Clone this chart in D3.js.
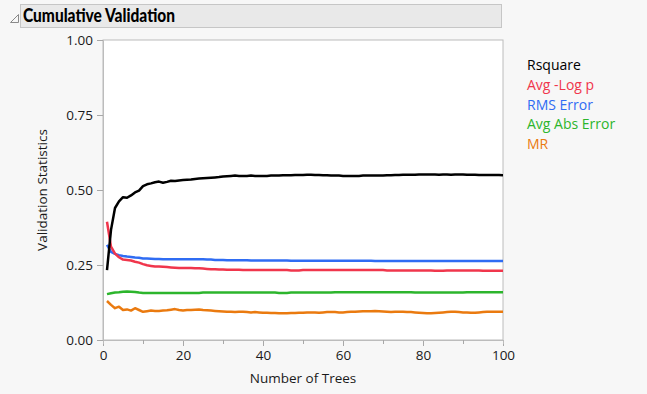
<!DOCTYPE html>
<html>
<head>
<meta charset="utf-8">
<script src="https://cdn.jsdelivr.net/npm/d3@7"></script>
<style>
  body { margin: 0; background: #f7f7f7; font-family: "Open Sans", "Noto Sans", sans-serif; }
  svg { display: block; }
</style>
</head>
<body>
<script>
// Cumulative validation statistics by number of trees (trees 1..100)

var seriesNames = ["Rsquare", "Avg -Log p", "RMS Error", "Avg Abs Error", "MR"];
var seriesColors = ["#000000", "#f0364c", "#2f6cf3", "#2cb52c", "#ea7a0f"];

var rsquare = [
  0.233, 0.367, 0.440, 0.462, 0.476, 0.474, 0.482, 0.492, 0.498, 0.513,
  0.519, 0.522, 0.526, 0.528, 0.524, 0.527, 0.531, 0.530, 0.532, 0.533,
  0.534, 0.535, 0.537, 0.538, 0.539, 0.540, 0.541, 0.542, 0.543, 0.545,
  0.546, 0.547, 0.548, 0.547, 0.547, 0.547, 0.548, 0.547, 0.547, 0.547,
  0.547, 0.548, 0.548, 0.548, 0.549, 0.549, 0.549, 0.550, 0.550, 0.550,
  0.551, 0.551, 0.550, 0.550, 0.549, 0.549, 0.548, 0.548, 0.548, 0.547,
  0.547, 0.547, 0.547, 0.547, 0.548, 0.548, 0.548, 0.548, 0.548, 0.548,
  0.549, 0.549, 0.550, 0.550, 0.551, 0.551, 0.551, 0.551, 0.552, 0.552,
  0.552, 0.552, 0.552, 0.551, 0.552, 0.552, 0.551, 0.552, 0.552, 0.552,
  0.551, 0.551, 0.551, 0.550, 0.550, 0.550, 0.550, 0.550, 0.550, 0.549
];

var avgLogP = [
  0.394, 0.311, 0.288, 0.276, 0.268, 0.267, 0.265, 0.261, 0.258, 0.253,
  0.249, 0.247, 0.245, 0.245, 0.244, 0.243, 0.242, 0.241, 0.240, 0.240,
  0.240, 0.240, 0.239, 0.239, 0.238, 0.237, 0.236, 0.236, 0.235, 0.235,
  0.234, 0.234, 0.234, 0.234, 0.233, 0.233, 0.233, 0.233, 0.233, 0.233,
  0.233, 0.233, 0.233, 0.233, 0.233, 0.233, 0.232, 0.232, 0.232, 0.233,
  0.233, 0.233, 0.233, 0.233, 0.233, 0.233, 0.233, 0.233, 0.233, 0.233,
  0.233, 0.233, 0.233, 0.233, 0.233, 0.233, 0.233, 0.233, 0.233, 0.233,
  0.232, 0.232, 0.232, 0.232, 0.232, 0.232, 0.232, 0.232, 0.232, 0.232,
  0.232, 0.232, 0.231, 0.231, 0.231, 0.232, 0.232, 0.232, 0.232, 0.232,
  0.232, 0.232, 0.232, 0.232, 0.231, 0.231, 0.231, 0.231, 0.231, 0.231
];

var rmsError = [
  0.317, 0.294, 0.287, 0.283, 0.280, 0.278, 0.277, 0.275, 0.274, 0.272,
  0.272, 0.271, 0.270, 0.270, 0.269, 0.269, 0.269, 0.269, 0.269, 0.269,
  0.269, 0.269, 0.269, 0.269, 0.269, 0.268, 0.268, 0.267, 0.267, 0.267,
  0.266, 0.266, 0.266, 0.266, 0.266, 0.266, 0.265, 0.265, 0.265, 0.265,
  0.265, 0.265, 0.265, 0.265, 0.265, 0.265, 0.264, 0.264, 0.264, 0.264,
  0.264, 0.264, 0.264, 0.264, 0.264, 0.264, 0.264, 0.264, 0.264, 0.264,
  0.264, 0.264, 0.264, 0.264, 0.264, 0.264, 0.264, 0.263, 0.263, 0.263,
  0.263, 0.263, 0.263, 0.263, 0.263, 0.263, 0.263, 0.263, 0.263, 0.263,
  0.263, 0.263, 0.263, 0.263, 0.263, 0.263, 0.263, 0.263, 0.263, 0.263,
  0.263, 0.263, 0.263, 0.263, 0.263, 0.263, 0.263, 0.263, 0.263, 0.263
];

var avgAbsError = [
  0.153, 0.156, 0.158, 0.159, 0.161, 0.162, 0.161, 0.160, 0.158, 0.157,
  0.157, 0.157, 0.157, 0.157, 0.157, 0.157, 0.157, 0.157, 0.157, 0.157,
  0.157, 0.157, 0.157, 0.157, 0.158, 0.158, 0.158, 0.158, 0.158, 0.158,
  0.158, 0.158, 0.158, 0.158, 0.158, 0.158, 0.158, 0.158, 0.158, 0.158,
  0.158, 0.158, 0.158, 0.157, 0.157, 0.157, 0.158, 0.158, 0.158, 0.158,
  0.158, 0.158, 0.158, 0.158, 0.158, 0.158, 0.158, 0.159, 0.159, 0.159,
  0.159, 0.159, 0.159, 0.159, 0.159, 0.159, 0.159, 0.159, 0.159, 0.159,
  0.159, 0.159, 0.159, 0.159, 0.159, 0.159, 0.159, 0.158, 0.158, 0.158,
  0.158, 0.158, 0.158, 0.158, 0.158, 0.158, 0.158, 0.158, 0.158, 0.158,
  0.159, 0.159, 0.159, 0.159, 0.159, 0.159, 0.159, 0.159, 0.159, 0.159
];

var mr = [
  0.130, 0.117, 0.106, 0.111, 0.100, 0.102, 0.098, 0.106, 0.100, 0.094,
  0.096, 0.098, 0.097, 0.097, 0.098, 0.099, 0.101, 0.103, 0.100, 0.098,
  0.100, 0.100, 0.101, 0.102, 0.100, 0.099, 0.098, 0.097, 0.096, 0.095,
  0.094, 0.094, 0.093, 0.094, 0.094, 0.093, 0.092, 0.093, 0.092, 0.091,
  0.091, 0.090, 0.090, 0.089, 0.089, 0.089, 0.090, 0.090, 0.091, 0.091,
  0.092, 0.092, 0.092, 0.091, 0.092, 0.093, 0.093, 0.093, 0.092, 0.092,
  0.093, 0.094, 0.094, 0.095, 0.096, 0.096, 0.096, 0.097, 0.096, 0.095,
  0.094, 0.093, 0.094, 0.094, 0.094, 0.093, 0.093, 0.092, 0.091, 0.090,
  0.089, 0.089, 0.090, 0.091, 0.092, 0.093, 0.094, 0.094, 0.093, 0.092,
  0.092, 0.091, 0.091, 0.092, 0.093, 0.094, 0.094, 0.094, 0.094, 0.094
];

var xTicks = [0, 20, 40, 60, 80, 100];
var xMinorTicks = [10, 30, 50, 70, 90];
var yTicks = [0, 0.25, 0.5, 0.75, 1];

var allSeries = [rsquare, avgLogP, rmsError, avgAbsError, mr];

var W = 647, H = 394;
var plot = { left: 103, top: 40, right: 503, bottom: 340 };

var svg = d3.select("body").append("svg")
    .attr("width", W)
    .attr("height", H);

// header bar
svg.append("rect")
    .attr("x", 20.5).attr("y", 4.5)
    .attr("width", 481).attr("height", 23)
    .attr("fill", "#e9e9e9")
    .attr("stroke", "#c6c6c6");

svg.append("path")
    .attr("d", "M10.5,22.5 L18.5,22.5 L18.5,14.5 Z")
    .attr("fill", "none")
    .attr("stroke", "#8a8a8a");

svg.append("text")
    .attr("x", 23).attr("y", 22)
    .attr("font-family", "Lato, 'Open Sans', sans-serif")
    .attr("font-size", 18.5)
    .attr("font-weight", 900)
    .attr("textLength", 152)
    .attr("lengthAdjust", "spacingAndGlyphs")
    .attr("fill", "#000")
    .text("Cumulative Validation");

var x = d3.scaleLinear().domain([0, 100]).range([plot.left, plot.right]);
var y = d3.scaleLinear().domain([0, 1]).range([plot.bottom, plot.top]);

// plot frame
svg.append("rect")
    .attr("x", plot.left).attr("y", plot.top)
    .attr("width", plot.right - plot.left)
    .attr("height", plot.bottom - plot.top)
    .attr("fill", "#ffffff")
    .attr("stroke", "#bcbcbc");

// y axis
svg.append("g")
    .attr("transform", "translate(" + plot.left + ",0)")
    .call(d3.axisLeft(y).tickValues(yTicks).tickFormat(d3.format(".2f")).tickSize(6).tickPadding(4));

// x axis
svg.append("g")
    .attr("transform", "translate(0," + plot.bottom + ")")
    .call(d3.axisBottom(x).tickValues(xTicks).tickSize(6).tickPadding(4));

svg.append("g")
    .attr("transform", "translate(0," + plot.bottom + ")")
    .call(d3.axisBottom(x).tickValues(xMinorTicks).tickSize(4).tickFormat(""));

svg.selectAll(".domain").attr("stroke", "#bcbcbc");
svg.selectAll(".tick line").attr("stroke", "#a8a8a8");
svg.selectAll(".tick text")
    .attr("font-family", "'Open Sans', 'Noto Sans', sans-serif")
    .attr("font-size", 13.5)
    .attr("fill", "#1a1a1a");

// axis titles
svg.append("text")
    .attr("x", (plot.left + plot.right) / 2)
    .attr("y", 383)
    .attr("text-anchor", "middle")
    .attr("font-size", 13.5)
    .attr("fill", "#1a1a1a")
    .text("Number of Trees");

svg.append("text")
    .attr("transform", "translate(47," + ((plot.top + plot.bottom) / 2) + ") rotate(-90)")
    .attr("text-anchor", "middle")
    .attr("font-size", 13.5)
    .attr("fill", "#1a1a1a")
    .text("Validation Statistics");

// lines
var line = d3.line()
    .x(function(d, i) { return x(i + 1); })
    .y(function(d) { return y(d); });

svg.append("clipPath").attr("id", "clip")
    .append("rect")
    .attr("x", plot.left).attr("y", plot.top)
    .attr("width", plot.right - plot.left).attr("height", plot.bottom - plot.top);

// draw order: coloured series first, Rsquare on top
[4, 3, 2, 1, 0].forEach(function(k) {
    svg.append("path")
        .datum(allSeries[k])
        .attr("clip-path", "url(#clip)")
        .attr("fill", "none")
        .attr("stroke", seriesColors[k])
        .attr("stroke-width", 2.5)
        .attr("stroke-linejoin", "round")
        .attr("d", line);
});

// legend
svg.append("g").selectAll("text")
    .data(seriesNames)
    .enter()
    .append("text")
    .attr("x", 527)
    .attr("y", function(d, i) { return 70 + i * 19.8; })
    .attr("font-size", 14)
    .attr("fill", function(d, i) { return seriesColors[i]; })
    .text(function(d) { return d; });
</script>
</body>
</html>
